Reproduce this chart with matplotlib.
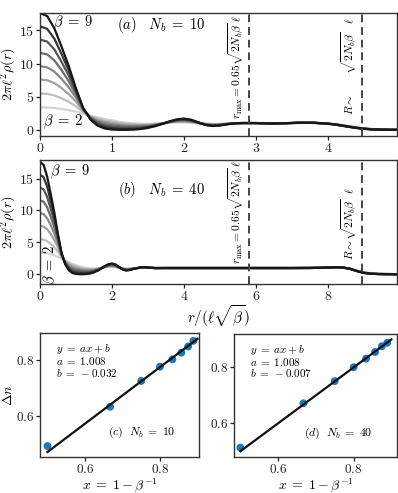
import numpy as np
import matplotlib
matplotlib.use("Agg")
import matplotlib.pyplot as plt

plt.rcParams['font.family'] = 'serif'
plt.rcParams['font.serif'] = ['cmr10', 'DejaVu Serif']
plt.rcParams['mathtext.fontset'] = 'cm'
plt.rcParams['axes.formatter.use_mathtext'] = True
plt.rcParams['axes.unicode_minus'] = True

# ---------------- data ----------------
betas = [2, 3, 4, 5, 6, 7, 8, 9]

# shared radial grid near the centre (r in units of l*sqrt(beta))
r_head = [0.0, 0.1, 0.2, 0.3, 0.4, 0.5, 0.6, 0.7, 0.8, 0.9, 1.0, 1.1, 1.2, 1.3,
          1.4, 1.5, 1.6, 1.7, 1.8, 1.9, 2.0, 2.1, 2.2, 2.3, 2.4, 2.5, 2.6]
r_tail_a = [2.7, 2.8, 3.0, 3.2, 3.4, 3.6, 3.8, 4.0, 4.1, 4.2, 4.3, 4.4, 4.5,
            4.6, 4.7, 4.8, 5.0]
r_tail_b = [2.7, 2.8, 2.9, 3.0, 3.2, 3.5, 4.0, 5.0, 6.0, 7.0, 7.5, 7.8, 8.0,
            8.2, 8.4, 8.6, 8.8, 9.0, 9.2, 9.4, 9.6, 10.0]

head_2 = [3.4, 3.38, 3.31, 3.17, 2.99, 2.76, 2.44, 2.15, 1.9, 1.65, 1.45, 1.25, 1.1, 1.0,
          0.95, 0.92, 0.95, 1.02, 1.1, 1.15, 1.15, 1.1, 1.02, 0.95, 0.92, 0.93, 0.97]
head_3 = [5.5, 5.44, 5.2, 4.77, 4.23, 3.56, 2.67, 2.07, 1.72, 1.45, 1.25, 1.08, 0.95, 0.87,
          0.84, 0.83, 0.9, 1.0, 1.13, 1.21, 1.23, 1.16, 1.04, 0.92, 0.87, 0.89, 0.95]
head_4 = [7.6, 7.49, 7.06, 6.3, 5.39, 4.27, 2.87, 2.0, 1.54, 1.24, 1.06, 0.9, 0.79, 0.73,
          0.72, 0.75, 0.84, 0.99, 1.16, 1.28, 1.31, 1.23, 1.06, 0.89, 0.83, 0.86, 0.94]
head_5 = [9.6, 9.43, 8.78, 7.68, 6.4, 4.85, 3.02, 1.92, 1.36, 1.04, 0.86, 0.73, 0.64, 0.6,
          0.61, 0.66, 0.79, 0.98, 1.19, 1.34, 1.39, 1.29, 1.08, 0.86, 0.78, 0.82, 0.92]
head_6 = [11.6, 11.37, 10.47, 9.0, 7.33, 5.33, 3.14, 1.84, 1.19, 0.83, 0.66, 0.55, 0.49, 0.46,
          0.49, 0.58, 0.74, 0.96, 1.21, 1.41, 1.47, 1.36, 1.09, 0.84, 0.74, 0.79, 0.91]
head_7 = [13.6, 13.3, 12.11, 10.23, 8.18, 5.72, 3.22, 1.76, 1.01, 0.63, 0.46, 0.38, 0.34, 0.33,
          0.38, 0.49, 0.69, 0.95, 1.24, 1.47, 1.56, 1.42, 1.11, 0.81, 0.69, 0.75, 0.89]
head_8 = [15.6, 15.21, 13.72, 11.41, 8.94, 6.04, 3.25, 1.68, 0.83, 0.43, 0.27, 0.2, 0.18, 0.19,
          0.26, 0.41, 0.63, 0.93, 1.27, 1.54, 1.64, 1.49, 1.13, 0.78, 0.65, 0.72, 0.88]
head_9 = [17.6, 17.13, 15.29, 12.51, 9.61, 6.25, 3.3, 1.6, 0.65, 0.22, 0.07, 0.03, 0.03, 0.06,
          0.15, 0.32, 0.58, 0.92, 1.3, 1.6, 1.72, 1.55, 1.15, 0.75, 0.6, 0.68, 0.86]

tail_a_2 = [1.0, 1.02, 1.02, 1.0, 1.02, 1.06, 1.06, 0.97, 0.88, 0.73, 0.56, 0.4, 0.26, 0.16, 0.1, 0.07, 0.04]
tail_a_3 = [1.0, 1.03, 1.03, 0.99, 1.02, 1.07, 1.07, 0.97, 0.87, 0.72, 0.55, 0.39, 0.25, 0.15, 0.09, 0.07, 0.04]
tail_a_4 = [1.0, 1.03, 1.03, 0.99, 1.02, 1.07, 1.07, 0.96, 0.86, 0.70, 0.53, 0.37, 0.24, 0.14, 0.09, 0.06, 0.03]
tail_a_5 = [1.0, 1.04, 1.04, 0.99, 1.02, 1.08, 1.08, 0.96, 0.85, 0.69, 0.52, 0.36, 0.23, 0.13, 0.08, 0.06, 0.03]
tail_a_6 = [1.0, 1.04, 1.04, 0.99, 1.02, 1.09, 1.09, 0.96, 0.85, 0.68, 0.50, 0.34, 0.21, 0.12, 0.08, 0.05, 0.03]
tail_a_7 = [1.0, 1.05, 1.05, 0.98, 1.02, 1.09, 1.09, 0.95, 0.84, 0.66, 0.49, 0.33, 0.20, 0.11, 0.07, 0.05, 0.02]
tail_a_8 = [1.0, 1.05, 1.05, 0.98, 1.02, 1.10, 1.10, 0.95, 0.83, 0.65, 0.47, 0.31, 0.19, 0.11, 0.07, 0.04, 0.02]
tail_a_9 = [1.0, 1.06, 1.05, 0.98, 1.02, 1.10, 1.10, 0.95, 0.82, 0.64, 0.46, 0.30, 0.18, 0.10, 0.06, 0.04, 0.02]

tail_b_2 = [1.0, 1.04, 1.06, 1.04, 1.0, 1.0, 1.0, 1.0, 1.0, 1.0, 1.01, 1.03, 1.05, 1.07, 1.05, 0.92, 0.62, 0.33, 0.17, 0.1, 0.07, 0.04]
tail_b_3 = [1.0, 1.05, 1.07, 1.05, 1.0, 1.0, 1.0, 1.0, 1.0, 1.0, 1.01, 1.03, 1.05, 1.08, 1.06, 0.92, 0.61, 0.31, 0.16, 0.09, 0.07, 0.04]
tail_b_4 = [0.99, 1.06, 1.08, 1.05, 1.0, 1.0, 1.0, 1.0, 1.0, 1.0, 1.01, 1.03, 1.06, 1.08, 1.06, 0.91, 0.59, 0.3, 0.15, 0.09, 0.06, 0.03]
tail_b_5 = [0.99, 1.07, 1.09, 1.06, 1.0, 1.0, 1.0, 1.0, 1.0, 1.0, 1.01, 1.03, 1.06, 1.09, 1.07, 0.91, 0.58, 0.28, 0.14, 0.08, 0.06, 0.03]
tail_b_6 = [0.99, 1.07, 1.11, 1.06, 0.99, 1.0, 1.0, 1.0, 1.0, 1.0, 1.01, 1.04, 1.07, 1.1, 1.08, 0.91, 0.56, 0.27, 0.13, 0.07, 0.05, 0.03]
tail_b_7 = [0.99, 1.08, 1.12, 1.07, 0.99, 1.0, 1.0, 1.0, 1.0, 1.0, 1.01, 1.04, 1.07, 1.11, 1.09, 0.9, 0.55, 0.25, 0.12, 0.06, 0.05, 0.02]
tail_b_8 = [0.98, 1.09, 1.13, 1.07, 0.99, 1.0, 1.0, 1.0, 1.0, 1.0, 1.01, 1.04, 1.08, 1.11, 1.09, 0.9, 0.53, 0.24, 0.11, 0.06, 0.04, 0.02]
tail_b_9 = [0.98, 1.1, 1.14, 1.08, 0.99, 1.0, 1.0, 1.0, 1.0, 1.0, 1.01, 1.04, 1.08, 1.12, 1.1, 0.9, 0.52, 0.22, 0.1, 0.05, 0.04, 0.02]

heads = [head_2, head_3, head_4, head_5, head_6, head_7, head_8, head_9]
tails_a = [tail_a_2, tail_a_3, tail_a_4, tail_a_5, tail_a_6, tail_a_7, tail_a_8, tail_a_9]
tails_b = [tail_b_2, tail_b_3, tail_b_4, tail_b_5, tail_b_6, tail_b_7, tail_b_8, tail_b_9]

Nb_a, Nb_b = 10, 40
r_max_a, R_a = 2.9, 4.47
r_max_b, R_b = 5.81, 8.94

# bottom panels
x_vals = [0.5, 0.667, 0.75, 0.8, 0.833, 0.857, 0.875, 0.889]
dn_c = [0.493, 0.633, 0.725, 0.776, 0.802, 0.826, 0.848, 0.868]
dn_d = [0.51, 0.67, 0.75, 0.80, 0.831, 0.855, 0.876, 0.888]
fit_a_c, fit_b_c = 1.008, -0.032
fit_a_d, fit_b_d = 1.008, -0.007
fit_x = [0.5, 0.9]

# ---------------- figure ----------------
W, H = 398, 493
fig = plt.figure(figsize=(W / 100, H / 100), dpi=100)


def box(l, t, r, b):
    return [l / W, 1 - b / H, (r - l) / W, (b - t) / H]


ax_a = fig.add_axes(box(40, 13, 397, 136))
ax_b = fig.add_axes(box(40, 160, 397, 284))
ax_c = fig.add_axes(box(40, 333, 199, 457))
ax_d = fig.add_axes(box(234, 334, 397, 457))

greys = [plt.cm.Greys(v) for v in np.linspace(0.28, 0.92, len(betas))]
dash_col = '#444444'

for ax in (ax_a, ax_b, ax_c, ax_d):
    for s in ax.spines.values():
        s.set_color('#333333')
        s.set_linewidth(1.0)
    ax.tick_params(direction='out', length=2.8, width=0.9, colors='#222222', pad=1.5)

# panel (a)
for h, t, c in zip(heads, tails_a, greys):
    ax_a.plot(r_head + r_tail_a, h + t, color=c, lw=1.6, solid_capstyle='round')
ax_a.axvline(r_max_a, color=dash_col, ls=(0, (4, 2.5)), lw=1.4)
ax_a.axvline(R_a, color=dash_col, ls=(0, (4, 2.5)), lw=1.4)
ax_a.set_xlim(0, 4.96)
ax_a.set_ylim(-0.9, 17.6)
ax_a.set_xticks([0, 1, 2, 3, 4])
ax_a.set_yticks([0, 5, 10, 15])
ax_a.tick_params(labelsize=10)
ax_a.set_ylabel(r'$2\pi\ell^2\rho(r)$', fontsize=10.2)
ax_a.yaxis.set_label_coords(-0.058, 0.5)
ax_a.text(0.036, 0.919, r'$\beta\;=\;9$', transform=ax_a.transAxes, fontsize=10.5,
          ha='left', va='center')
ax_a.text(0.008, 0.114, r'$\beta\;=\;2$', transform=ax_a.transAxes, fontsize=10.5,
          ha='left', va='center')
ax_a.text(0.216, 0.902, r'$(a)\quad N_b\;=\;10$', transform=ax_a.transAxes, fontsize=10.5,
          ha='left', va='center')
ax_a.text(r_max_a - 0.04, 1.7, r'$r_{\rm max}=0.65\sqrt{2N_b\beta}\ \ell$', rotation=90,
          fontsize=8.3, ha='right', va='bottom')
ax_a.text(R_a - 0.04, 2.2, r'$R\sim\qquad\sqrt{2N_b\beta}\quad\ell$', rotation=90,
          fontsize=8.3, ha='right', va='bottom')

# panel (b)
for h, t, c in zip(heads, tails_b, greys):
    ax_b.plot(r_head + r_tail_b, h + t, color=c, lw=1.6, solid_capstyle='round')
ax_b.axvline(r_max_b, color=dash_col, ls=(0, (4, 2.5)), lw=1.4)
ax_b.axvline(R_b, color=dash_col, ls=(0, (4, 2.5)), lw=1.4)
ax_b.set_xlim(0, 9.92)
ax_b.set_ylim(-1.5, 17.9)
ax_b.set_xticks([0, 2, 4, 6, 8])
ax_b.set_yticks([0, 5, 10, 15])
ax_b.tick_params(labelsize=10)
ax_b.set_ylabel(r'$2\pi\ell^2\rho(r)$', fontsize=10.2)
ax_b.yaxis.set_label_coords(-0.058, 0.5)
ax_b.set_xlabel(r'$r/(\ell\sqrt{\beta})$', fontsize=11, labelpad=0)
ax_b.text(0.028, 0.903, r'$\beta\;=\;9$', transform=ax_b.transAxes, fontsize=10.5,
          ha='left', va='center')
ax_b.text(0.031, 0.153, r'$\beta\;=\;2$', transform=ax_b.transAxes, fontsize=10.5,
          ha='center', va='center', rotation=90)
ax_b.text(0.218, 0.758, r'$(b)\quad N_b\;=\;40$', transform=ax_b.transAxes, fontsize=10.5,
          ha='left', va='center')
ax_b.text(r_max_b - 0.08, 1.7, r'$r_{\rm max}=0.65\sqrt{2N_b\beta}\ \ell$', rotation=90,
          fontsize=8.3, ha='right', va='bottom')
ax_b.text(R_b - 0.08, 2.2, r'$R\sim\!\sqrt{2N_b\beta}\ \ \ell$', rotation=90,
          fontsize=8.3, ha='right', va='bottom')

# panels (c), (d)
for ax, dn, fa, fb, lab, xl, yl in (
        (ax_c, dn_c, fit_a_c, fit_b_c, r'$(c)\ \ N_b\;=\;10$', (0.48, 0.904), (0.454, 0.896)),
        (ax_d, dn_d, fit_a_d, fit_b_d, r'$(d)\ \ N_b\;=\;40$', (0.483, 0.915), (0.476, 0.92))):
    ax.scatter(x_vals, dn, s=32, color='#1f77b4', zorder=2, edgecolors='none')
    ax.plot(fit_x, [fa * v + fb for v in fit_x], color='#111111', lw=1.6, zorder=3)
    ax.set_xlim(*xl)
    ax.set_ylim(*yl)
    ax.set_xticks([0.6, 0.8])
    ax.set_yticks([0.6, 0.8])
    ax.tick_params(labelsize=9.5)
    ax.set_xlabel(r'$x\;=\;1-\beta^{-1}$', fontsize=10, labelpad=0)
    ax.text(0.1, 0.87, r'$y\;=\;ax+b$', transform=ax.transAxes, fontsize=8, ha='left', va='center')
    ax.text(0.1, 0.775, r'$a\;=\;%.3f$' % fa, transform=ax.transAxes, fontsize=8, ha='left', va='center')
    ax.text(0.1, 0.68, r'$b\;=\;%.3f$' % fb, transform=ax.transAxes, fontsize=8, ha='left', va='center')
    ax.text(0.64, 0.196, lab, transform=ax.transAxes, fontsize=8.5, ha='center', va='center')
ax_c.set_ylabel(r'$\Delta n$', fontsize=10)
ax_c.yaxis.set_label_coords(-0.16, 0.5)

fig.savefig('out.png', dpi=100)
